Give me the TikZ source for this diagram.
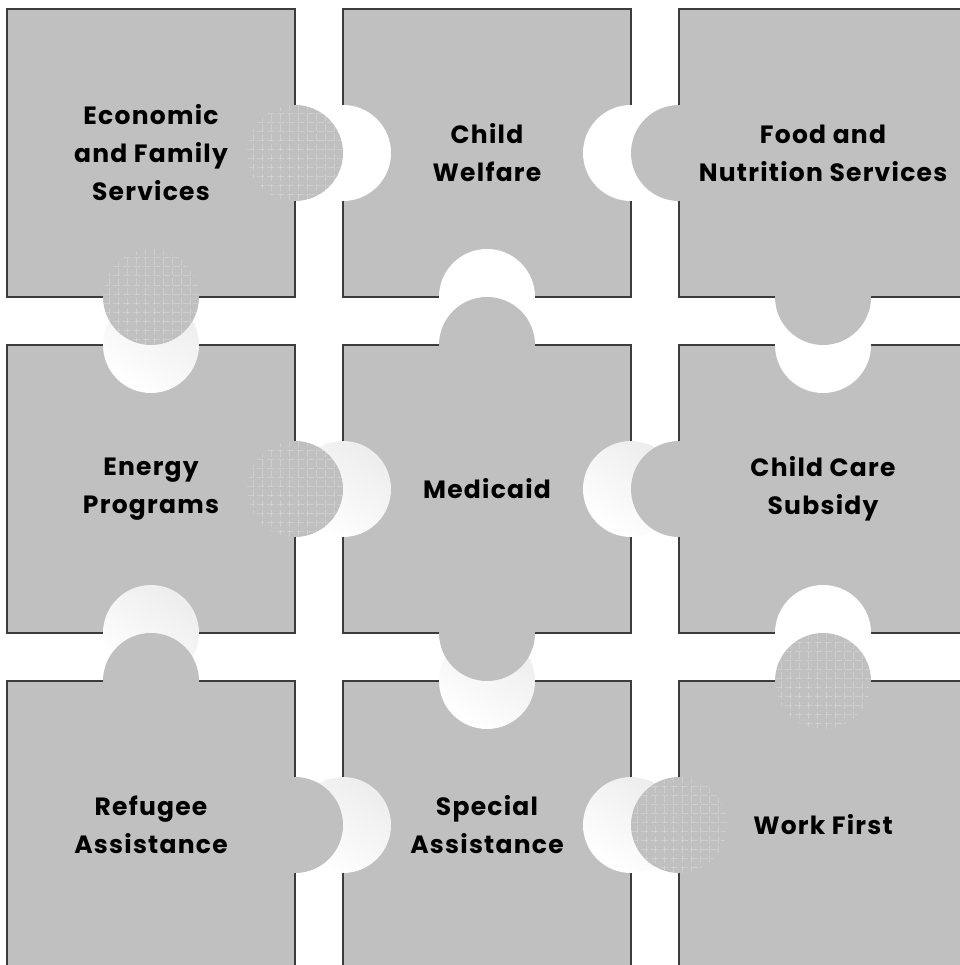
\documentclass[tikz,border=0pt]{standalone}
\usepackage{fontspec}
\setmainfont{Poppins}
\usetikzlibrary{positioning}
\definecolor{tile}{HTML}{C0C0C0}
\definecolor{edge}{HTML}{3C3C3C}
\tikzset{
  piece/.style={draw=edge,fill=tile,line width=1.3pt,minimum size=288pt,
    inner sep=0pt,outer sep=0pt},
  caption/.style={align=center,
    font=\fontsize{25}{38}\selectfont\bfseries\addfontfeatures{LetterSpace=5}},
  knob/.style={fill=tile},
  hole/.style={fill=white},
  shadehole/.style={top color=gray!14,bottom color=white,shading angle=-35},
  mesh/.style={white,opacity=0.22,line width=1pt,dash pattern=on 7pt off 3pt}
}
% knob with the faint woven texture
\newcommand{\meshknob}[1]{%
  \begin{scope}[shift={(#1)}]
    \fill[knob] (0,0) circle (48pt);
    \clip (0,0) circle (48pt);
    \foreach \k in {-42,-33,...,42}{
      \draw[mesh] (\k pt,-48pt) -- (\k pt,48pt);
      \draw[mesh] (-48pt,\k pt) -- (48pt,\k pt);
    }
  \end{scope}}

\begin{document}
\begin{tikzpicture}[node distance=48pt]
  \useasboundingbox (0pt,0pt) rectangle (959pt,-965pt);
  % the nine tiles
  \node[piece] (econ) at (151pt,-153pt) {};
  \node[piece,right=of econ] (child) {};
  \node[piece,right=of child] (food) {};
  \node[piece,below=of econ] (energy) {};
  \node[piece,right=of energy] (medicaid) {};
  \node[piece,right=of medicaid] (care) {};
  \node[piece,below=of energy] (refugee) {};
  \node[piece,right=of refugee] (special) {};
  \node[piece,right=of special] (work) {};
  % holes
  \fill[hole] (child.west) circle (48pt);
  \fill[hole] (child.east) circle (48pt);
  \fill[hole] (child.south) circle (48pt);
  \fill[hole] (care.north) circle (48pt);
  \fill[hole] (care.south) circle (48pt);
  \shade[shadehole] (energy.north) circle (48pt);
  \shade[shadehole] (medicaid.west) circle (48pt);
  \shade[shadehole] (medicaid.east) circle (48pt);
  \shade[shadehole] (energy.south) circle (48pt);
  \shade[shadehole] (special.north) circle (48pt);
  \shade[shadehole] (special.west) circle (48pt);
  \shade[shadehole] (special.east) circle (48pt);
  % knobs
  \meshknob{econ.east}
  \meshknob{econ.south}
  \meshknob{energy.east}
  \meshknob{work.north}
  \meshknob{work.west}
  \fill[knob] (food.west) circle (48pt);
  \fill[knob] (medicaid.north) circle (48pt);
  \fill[knob] (food.south) circle (48pt);
  \fill[knob] (care.west) circle (48pt);
  \fill[knob] (refugee.north) circle (48pt);
  \fill[knob] (medicaid.south) circle (48pt);
  \fill[knob] (refugee.east) circle (48pt);
  % names on top of everything
  \node[caption] (econ-t) at (econ) {Economic\\and Family\\Services};
  \node[caption] (child-t) at (child) {Child\\Welfare};
  \node[caption] (food-t) at (food) {Food and\\Nutrition Services};
  \node[caption] (energy-t) at (energy) {Energy\\Programs};
  \node[caption] (medicaid-t) at (medicaid) {Medicaid};
  \node[caption] (care-t) at (care) {Child Care\\Subsidy};
  \node[caption] (refugee-t) at (refugee) {Refugee\\Assistance};
  \node[caption] (special-t) at (special) {Special\\Assistance};
  \node[caption] (work-t) at (work) {Work First};
\end{tikzpicture}
\end{document}
